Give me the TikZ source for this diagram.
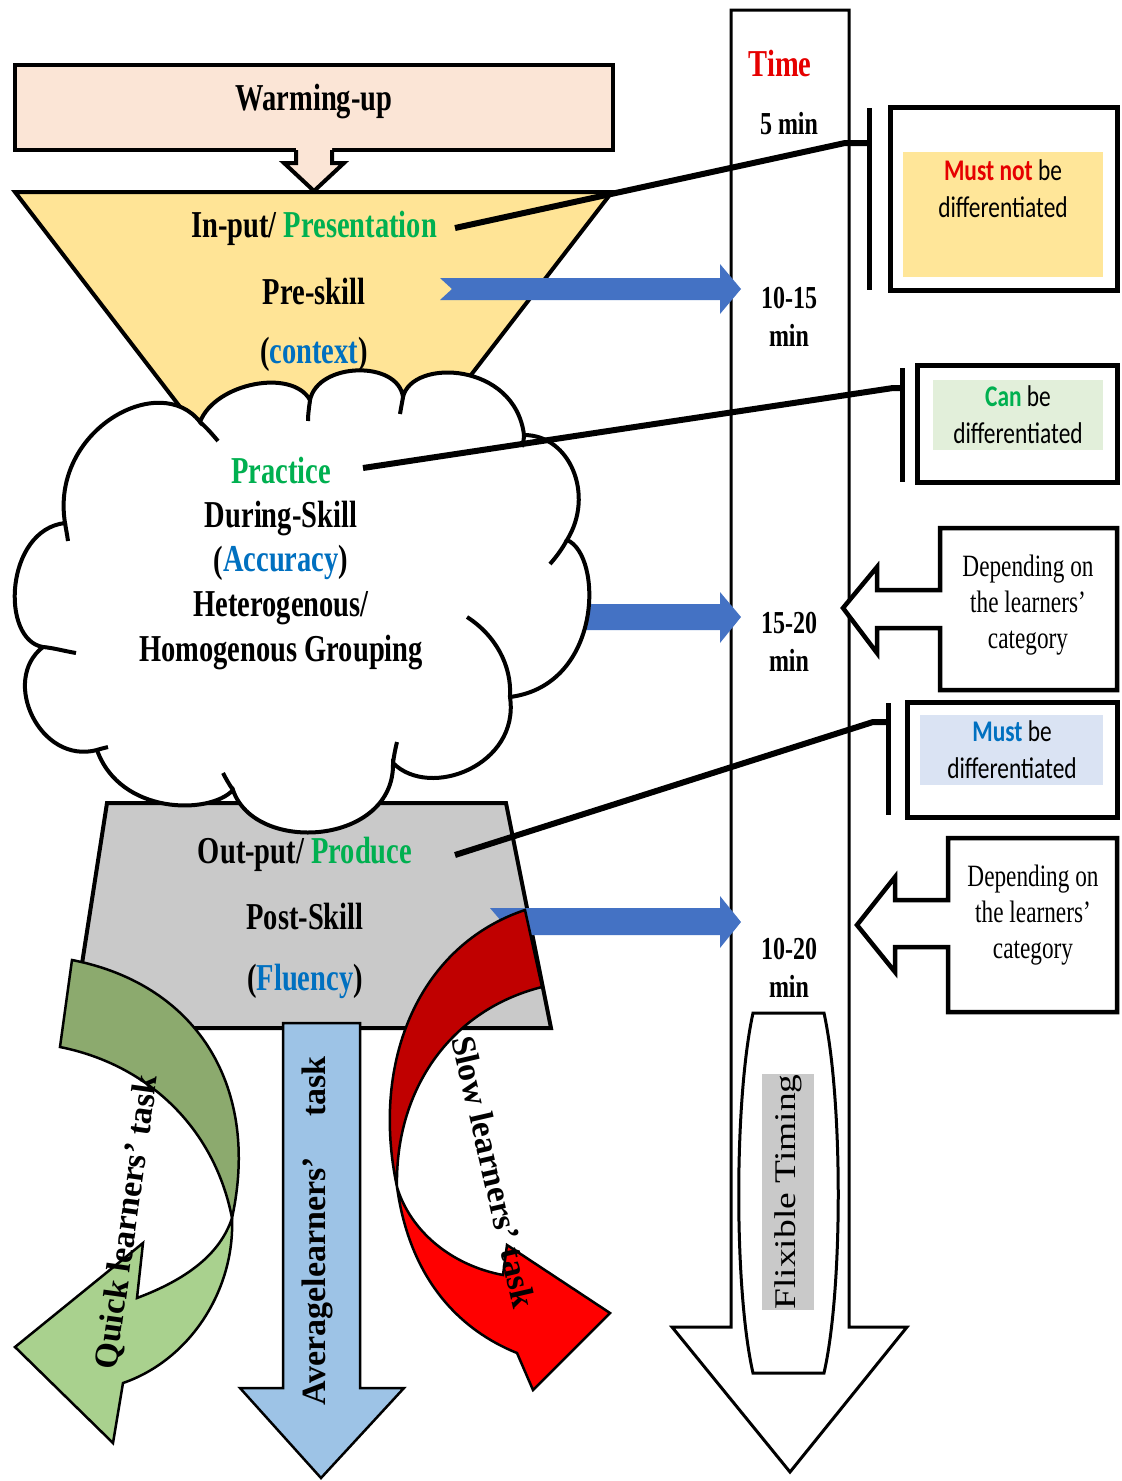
\documentclass[tikz,border=0pt]{standalone}
\usepackage{fontspec}
\setmainfont{Liberation Serif}
\newfontfamily\lbl[FakeStretch=0.75]{Liberation Serif}
\newfontfamily\rotlbl{Liberation Serif}
\newfontfamily\flx[FakeStretch=1.25]{Liberation Serif}
\newfontfamily\calfont[FakeStretch=0.78]{Carlito}
\definecolor{pinkc}{RGB}{251,229,214}
\definecolor{funnelc}{RGB}{255,228,150}
\definecolor{grayc}{RGB}{201,201,201}
\definecolor{arrowblue}{RGB}{68,114,196}
\definecolor{lightblue}{RGB}{157,195,230}
\definecolor{txtgreen}{RGB}{0,176,80}
\definecolor{txtblue}{RGB}{0,112,192}
\definecolor{txtred}{RGB}{230,0,0}
\definecolor{dkgreen}{RGB}{140,170,110}
\definecolor{ltgreen}{RGB}{169,209,142}
\definecolor{dkred}{RGB}{192,0,0}
\definecolor{ltred}{RGB}{255,0,0}
\definecolor{yelbox}{RGB}{255,230,153}
\definecolor{grnbox}{RGB}{226,239,218}
\definecolor{blubox}{RGB}{218,227,243}
\tikzset{
  bigtxt/.style={font=\lbl\bfseries\fontsize{38}{44.5}\selectfont, inner sep=0pt, align=center},
  timetxt/.style={font=\lbl\bfseries\fontsize{32}{38}\selectfont, inner sep=0pt, align=center},
  caltxt/.style={font=\calfont\fontsize{30}{37}\selectfont, inner sep=0pt, align=center},
  deptxt/.style={font=\lbl\fontsize{31}{36}\selectfont, inner sep=0pt, align=center},
  rottxt/.style={font=\rotlbl\bfseries\fontsize{34}{34}\selectfont, inner sep=0pt},
  heavy/.style={line width=4pt, line join=miter},
  boxframe/.style={draw, line width=5pt, inner sep=0pt, fill=white},
  barline/.style={line width=5pt},
  conline/.style={line width=6pt, line join=round},
  bluearrow/.style={fill=arrowblue},
  curvedge/.style={draw, line width=2.5pt, line join=miter},
  cloudline/.style={line width=4pt}
}
\begin{document}
\begin{tikzpicture}[x=1pt,y=-1pt]
\useasboundingbox (0,0) rectangle (1122,1481);
\fill[white] (0,0) rectangle (1122,1481);

% time arrow
\draw[line width=3pt, fill=white, line join=miter] (731,10) -- (849,10) -- (849,1327) -- (907,1327) -- (790,1472) -- (672,1327) -- (731,1327) -- cycle;
\draw[line width=3pt, fill=white] (753,1013) -- (824,1013) .. controls (843,1100) and (843,1290) .. (824,1373) -- (753,1373) .. controls (734,1290) and (734,1100) .. (753,1013) -- cycle;
\node[rotate=90, fill=grayc, minimum width=229, minimum height=52, inner sep=0pt, font=\flx\fontsize{30}{30}\selectfont] (flex) at (788,1192) {Flixible Timing};
\node[font=\lbl\bfseries\fontsize{38}{40}\selectfont, text=txtred, inner sep=0pt] (time) at (780,63) {Time};
\node[timetxt] (t5) at (789,124) {5 min};
\node[timetxt] (t1015) at (789,317) {10-15\\min};
\node[timetxt] (t1520) at (789,642) {15-20\\min};
\node[timetxt] (t1020) at (789,968) {10-20\\min};

% funnel
\draw[heavy, fill=funnelc] (15,192) -- (612,192) -- (313,580) -- cycle;
\fill[bluearrow] (440,278) -- (720,278) -- (720,264) -- (741,289) -- (720,314) -- (720,300) -- (440,300) -- (452,289) -- cycle;
\node[bigtxt] (pres) at (314,228) {In-put/ \textcolor{txtgreen}{Presentation}};
\node[bigtxt] (preskill) at (314,291) {Pre-skill};
\node[bigtxt] (context) at (314,354) {(\textcolor{txtblue}{context})};

% warming-up
\node[draw, line width=4pt, fill=pinkc, minimum width=598, minimum height=85, inner sep=0pt] (warm) at (314,107.5) {};
\node[bigtxt] (warmtxt) at (314,102) {Warming-up};
\fill[pinkc] (296,148) -- (296,163) -- (284,163) -- (314,191) -- (344,163) -- (332,163) -- (332,148) -- cycle;
\draw[heavy] (296,150) -- (296,163) -- (284,163) -- (314,191) -- (344,163) -- (332,163) -- (332,150);

% arrow 15-20
\fill[bluearrow] (520,604) -- (720,604) -- (720,592) -- (741,617) -- (720,643) -- (720,630) -- (520,630) -- cycle;

% gray trapezoid
\draw[heavy, fill=grayc] (107,803) -- (506,803) -- (551,1028) -- (72,1028) -- cycle;

% cloud
\coordinate (J1) at (200,422);
\coordinate (J2) at (310,400);
\coordinate (J3) at (403,397);
\coordinate (J4) at (524,435);
\coordinate (J5) at (567,540);
\coordinate (J6) at (510,697);
\coordinate (J7) at (393,763);
\coordinate (J8) at (233,790);
\coordinate (J9) at (97,750);
\coordinate (J10) at (43,647);
\coordinate (J11) at (65,523);
\draw[cloudline, fill=white] (J1) .. controls (215,383) and (292,368) .. (J2)
  .. controls (318,362) and (398,360) .. (J3)
  .. controls (412,358) and (515,362) .. (J4)
  .. controls (570,435) and (595,495) .. (J5)
  .. controls (603,555) and (603,685) .. (J6)
  .. controls (520,765) and (430,800) .. (J7)
  .. controls (395,845) and (255,855) .. (J8)
  .. controls (210,815) and (120,815) .. (J9)
  .. controls (40,765) and (0,680) .. (J10)
  .. controls (0,640) and (5,530) .. (J11)
  .. controls (50,430) and (160,370) .. (J1) -- cycle;
\draw[cloudline] (J1) .. controls (207,428) and (212,434) .. (218,441);
\draw[cloudline] (J2) .. controls (309,408) and (308,414) .. (308,421);
\draw[cloudline] (J3) .. controls (402,403) and (401,408) .. (400,414);
\draw[cloudline] (J4) .. controls (524,439) and (523,443) .. (522,447);
\draw[cloudline] (J5) .. controls (562,549) and (557,556) .. (550,564);
\draw[cloudline] (J6) .. controls (512,665) and (495,635) .. (467,617);
\draw[cloudline] (J7) .. controls (394,756) and (395,750) .. (397,742);
\draw[cloudline] (J8) .. controls (229,784) and (226,779) .. (223,773);
\draw[cloudline] (J9) .. controls (100,749) and (104,748) .. (108,747);
\draw[cloudline] (J10) .. controls (54,648) and (64,651) .. (76,653);
\draw[cloudline] (J11) .. controls (66,529) and (67,534) .. (68,541);
\node[bigtxt] (cloudtxt) at (281,563) {\textcolor{txtgreen}{Practice}\\During-Skill\\(\textcolor{txtblue}{Accuracy})\\Heterogenous/\\Homogenous Grouping};

% arrow 10-20
\fill[bluearrow] (490,908) -- (720,908) -- (720,896) -- (741,922) -- (720,948) -- (720,935) -- (490,935) -- (502,922) -- cycle;

% gray texts
\node[bigtxt] (outp) at (305,854) {Out-put/ \textcolor{txtgreen}{Produce}};
\node[bigtxt] (postskill) at (305,916) {Post-Skill};
\node[bigtxt] (fluency) at (305,981) {(\textcolor{txtblue}{Fluency})};

% red curved arrow
\path[curvedge, fill=dkred] (525,910) .. controls (420,945) and (370,1060) .. (397,1187) .. controls (395,1090) and (450,1010) .. (542,987) -- cycle;
\path[curvedge, fill=ltred] (397,1187) .. controls (410,1280) and (460,1330) .. (517,1353) -- (533,1390) -- (610,1313) -- (507,1245) -- (503,1275) .. controls (450,1265) and (410,1230) .. (397,1187) -- cycle;

% green curved arrow
\path[curvedge, fill=dkgreen] (72,960) .. controls (200,985) and (260,1090) .. (232,1218) .. controls (215,1130) and (150,1065) .. (60,1047) -- cycle;
\path[curvedge, fill=ltgreen] (232,1218) .. controls (235,1290) and (190,1360) .. (123,1383) -- (113,1443) -- (15,1347) -- (143,1243) -- (137,1298) .. controls (185,1280) and (220,1255) .. (232,1218) -- cycle;

% blue down arrow
\draw[line width=2.5pt, fill=lightblue, line join=miter] (283,1023) -- (360,1023) -- (360,1388) -- (404,1388) -- (321,1478) -- (240,1388) -- (283,1388) -- cycle;

% rotated labels
\node[rottxt, rotate=82] (quick) at (128,1222) {Quick learners’ task};
\node[rottxt, rotate=90] (avg) at (317,1231) {Averagelearners’\hspace{40pt}task};
\node[rottxt, rotate=-77] (slow) at (494,1172) {Slow learners’ task};

% right boxes
\node[boxframe, minimum width=227, minimum height=183] (box1) at (1003.5,198.5) {};
\fill[yelbox] (903,152) rectangle (1103,277);
\node[caltxt] (box1txt) at (1003,189) {\textbf{\textcolor{txtred}{Must not}} be\\differentiated};

\node[boxframe, minimum width=200, minimum height=117] (box2) at (1017,423.5) {};
\fill[grnbox] (933,380) rectangle (1103,450);
\node[caltxt] (box2txt) at (1018,415) {\textbf{\textcolor{txtgreen}{Can}} be\\differentiated};

\node[boxframe, minimum width=210, minimum height=115] (box3) at (1012,759.5) {};
\fill[blubox] (920,715) rectangle (1103,785);
\node[caltxt] (box3txt) at (1012,750) {\textbf{\textcolor{txtblue}{Must}} be\\differentiated};

% callouts
\draw[heavy, line width=4.5pt, fill=white] (940,528) -- (1117,528) -- (1117,690) -- (940,690) -- (940,628) -- (877,628) -- (877,653) -- (843,608) -- (877,567) -- (877,590) -- (940,590) -- cycle;
\node[deptxt] (dep1) at (1028,605) {Depending on\\the learners’\\category};
\draw[heavy, line width=4.5pt, fill=white] (948,838) -- (1117,838) -- (1117,1012) -- (948,1012) -- (948,947) -- (895,947) -- (895,972) -- (857,925) -- (895,877) -- (895,900) -- (948,900) -- cycle;
\node[deptxt] (dep2) at (1033,915) {Depending on\\the learners’\\category};

% bars and connectors
\coordinate (b1t) at (869,108); \coordinate (b1b) at (869,290);
\coordinate (b2t) at (902,368); \coordinate (b2b) at (902,482);
\coordinate (b3t) at (888,703); \coordinate (b3b) at (888,815);
\draw[barline] (b1t) -- (b1b);
\draw[barline] (b2t) -- (b2b);
\draw[barline] (b3t) -- (b3b);
\coordinate (c1s) at (455,228); \coordinate (c1k) at (845,143); \coordinate (c1e) at (869,143);
\coordinate (c2s) at (363,468); \coordinate (c2k) at (893,388); \coordinate (c2e) at (902,388);
\coordinate (c3s) at (455,855); \coordinate (c3k) at (873,722); \coordinate (c3e) at (888,722);
\draw[conline] (c1s) -- (c1k) -- (c1e);
\draw[conline] (c2s) -- (c2k) -- (c2e);
\draw[conline] (c3s) -- (c3k) -- (c3e);
\end{tikzpicture}
\end{document}
